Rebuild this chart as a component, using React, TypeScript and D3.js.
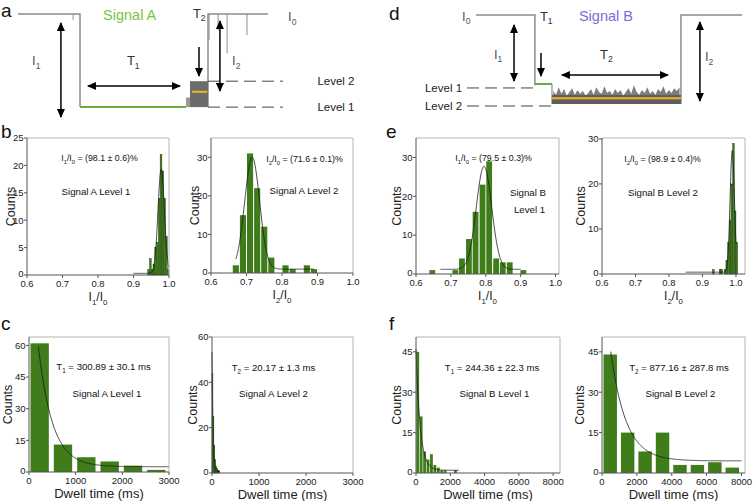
'use client';

/**
 * NanoporeFigure — two schematic current traces (Signal A / Signal B)
 * with blockade-ratio and dwell-time histograms for each level.
 */

import React from 'react';
import * as d3 from 'd3';

const FONT = '"Liberation Sans", Arial, Helvetica, sans-serif';
const BAR = '#3f7d1b';
const TRACE = '#8c8c8c';
const GREEN_TRACE = '#6cab3a';
const ORANGE = '#f2b41c';

// ---------- histogram data ----------
// b: Signal A, blockade ratios
const aL1RatioStarts = [0.94, 0.945, 0.95, 0.955, 0.96, 0.965, 0.97, 0.975, 0.98, 0.985, 0.99, 0.995];
const aL1RatioCounts = [1, 3, 1, 2, 5, 6, 14, 22, 19, 14, 7, 1];
const aL2RatioStarts = [0.66, 0.68, 0.7, 0.72, 0.74, 0.76, 0.78, 0.8, 0.82, 0.84, 0.86, 0.88];
const aL2RatioCounts = [2, 15, 31, 22, 12, 4, 0, 2, 1, 0, 2, 1];
// e: Signal B, blockade ratios
const bL1RatioStarts = [0.637, 0.703, 0.722, 0.742, 0.761, 0.781, 0.8, 0.82, 0.839, 0.859, 0.898];
const bL1RatioCounts = [1, 1, 4, 9, 16, 23, 29, 4, 3, 3, 1];
const bL2RatioStarts = [0.93, 0.95, 0.955, 0.965, 0.97, 0.975, 0.98, 0.985, 0.99, 0.995, 1.0];
const bL2RatioCounts = [1, 1, 1, 1, 3, 7, 12, 20, 29, 14, 7];
// c: Signal A, dwell times (ms)
const aL1DwellStarts = [0, 500, 1000, 1500, 2000, 2500];
const aL1DwellCounts = [61, 13, 7, 5, 3, 1];
const aL2DwellStarts = [0, 20, 40, 60, 80, 100, 120, 140];
const aL2DwellCounts = [44, 25, 12, 6, 3, 2, 1, 1];
// f: Signal B, dwell times (ms)
const bL1DwellStarts = [0, 200, 400, 600, 800, 1000, 1200, 1400, 1600, 2200];
const bL1DwellCounts = [45, 21, 8, 5, 7, 3, 2, 1, 1, 1];
const bL2DwellStarts = [0, 1000, 2000, 3000, 4000, 5000, 6000, 7000];
const bL2DwellCounts = [44, 15, 8, 15, 3, 3, 4, 2];

// fit parameters: gauss [mu, sigma, amp, base], exp [A, tau, y0]
const aL1Gauss = [0.978, 0.009, 19, 0.3];
const aL2Gauss = [0.716, 0.021, 29, 1];
const bL1Gauss = [0.795, 0.022, 26.5, 1.2];
const bL2Gauss = [0.989, 0.0065, 27, 0.4];
const aL1Exp = [111, 300.89, 2.5];
const aL2Exp = [53, 20.17, 0.5];
const bL1Exp = [45, 244.36, 1];
const bL2Exp = [71.7, 877.16, 4.5];

const ratioTicks = [0.6, 0.7, 0.8, 0.9, 1.0];

// ---------- schematic trace data (time 0-100, current 0-1 of I0) ----------
const aPreT = [0, 23.4, 23.4];
const aPreI = [1, 1, 0.03];
const aGreenT = [23.4, 63.4];
const aGreenI = [0.03, 0.03];
const aPostT = [71.7, 71.7, 94.3];
const aPostI = [0.03, 1, 1];
const aSpikeT = [20.8, 72.1, 75.5, 78.9, 86.4];
const aSpikeI = [0.94, 0.73, 0.83, 0.59, 0.78];

const dPreT = [3.3, 24.7, 24.7];
const dPreI = [1, 1, 0.26];
const dGreenT = [24.7, 30.9];
const dGreenI = [0.274, 0.274];
const dPostT = [77.8, 77.8, 100];
const dPostI = [0.063, 1, 1];
const dNoise = [0.2, 0.16, 0.24, 0.17, 0.22, 0.15, 0.19, 0.23, 0.16, 0.21, 0.17, 0.2, 0.15, 0.18, 0.22, 0.16,
  0.24, 0.19, 0.17, 0.25, 0.18, 0.2, 0.16, 0.22, 0.18, 0.21, 0.15, 0.19, 0.23, 0.17, 0.26, 0.19, 0.16, 0.21,
  0.18, 0.24, 0.17, 0.2, 0.16, 0.22, 0.19, 0.25, 0.17, 0.21, 0.18, 0.23, 0.2, 0.24];

type Seg = { t: string; sub?: boolean };
const s = (t: string): Seg => ({ t });
const sb = (t: string): Seg => ({ t, sub: true });

function Rich({ x, y, segs, size, anchor = 'start', fill = '#111' }: {
  x: number; y: number; segs: Seg[]; size: number; anchor?: string; fill?: string;
}) {
  let shift = 0;
  const down = size * 0.3;
  return (
    <text x={x} y={y} fontSize={size} textAnchor={anchor} fill={fill} fontFamily={FONT}>
      {segs.map((g, i) => {
        const target = g.sub ? down : 0;
        const dy = target - shift;
        shift = target;
        return (
          <tspan key={i} dy={dy} fontSize={g.sub ? size * 0.66 : size}>{g.t}</tspan>
        );
      })}
    </text>
  );
}

interface Note { segs: Seg[]; dx: number; dy: number; size: number }

interface HistProps {
  box: [number, number, number, number]; // left, right, top, bottom
  xDom: [number, number];
  yDom: [number, number];
  xTicks: number[];
  yTicks: number[];
  xFmt: (v: number) => string;
  starts: number[];
  counts: number[];
  binW: number;
  inset: [number, number];
  edge?: string;
  fitKind: 'gauss' | 'exp';
  fit: number[];
  fitRange: [number, number];
  notes: Note[];
  xLabel: Seg[];
  xLabelSize: number;
  yLabelX: number;
}

function Hist(p: HistProps) {
  const [l, r, t, b] = p.box;
  const x = d3.scaleLinear().domain(p.xDom).range([l, r]);
  const y = d3.scaleLinear().domain(p.yDom).range([b, t]);

  const f = (v: number) => {
    if (p.fitKind === 'gauss') {
      const [mu, sig, amp, base] = p.fit;
      return base + amp * Math.exp(-((v - mu) ** 2) / (2 * sig * sig));
    }
    const [A, tau, y0] = p.fit;
    return y0 + A * Math.exp(-v / tau);
  };
  const [f0, f1] = p.fitRange;
  const pts = d3.range(0, 301).map((i) => f0 + ((f1 - f0) * i) / 300);
  const fitPath = d3.line<number>().x((v) => x(v)).y((v) => y(Math.min(f(v), p.yDom[1]))).curve(d3.curveLinear)(pts) || '';

  return (
    <g fontFamily={FONT}>
      {p.starts.map((x0, i) => {
        const n = p.counts[i];
        if (!n) return null;
        const xa = x(x0) + p.inset[0];
        const w = Math.max(0.6, x(x0 + p.binW) - x(x0) - p.inset[0] - p.inset[1]);
        return (
          <rect key={i} x={xa} y={y(n)} width={w} height={y(0) - y(n)} fill={BAR}
            stroke={p.edge || 'none'} strokeWidth={p.edge ? 0.4 : 0} />
        );
      })}
      <path d={fitPath} fill="none" stroke="#1a1a1a" strokeWidth={0.8} />
      {/* frame */}
      <line x1={l} x2={r} y1={t} y2={t} stroke="#b4b4b4" strokeWidth={1} />
      <line x1={r} x2={r} y1={t} y2={b} stroke="#b4b4b4" strokeWidth={1} />
      <line x1={l} x2={l} y1={t} y2={b} stroke="#555" strokeWidth={1} />
      <line x1={l} x2={r} y1={b} y2={b} stroke="#555" strokeWidth={1} />
      {p.yTicks.map((v) => (
        <g key={'y' + v}>
          <line x1={l - 3} x2={l} y1={y(v)} y2={y(v)} stroke="#555" />
          <text x={l - 3.5} y={y(v) + (v === 0 ? 1.5 : 3.3)} fontSize={9.5} textAnchor="end" fill="#222">{v}</text>
        </g>
      ))}
      {p.xTicks.map((v) => (
        <g key={'x' + v}>
          <line x1={x(v)} x2={x(v)} y1={b} y2={b + 3} stroke="#555" />
          <text x={x(v)} y={b + 11.5} fontSize={9.5} textAnchor="middle" fill="#222">{p.xFmt(v)}</text>
        </g>
      ))}
      <Rich x={(l + r) / 2} y={b + 26} segs={p.xLabel} size={p.xLabelSize} anchor="middle" fill="#222" />
      <text transform={`translate(${p.yLabelX},${(t + b) / 2}) rotate(-90)`} fontSize={12.5}
        textAnchor="middle" fill="#222">Counts</text>
      {p.notes.map((n, i) => (
        <Rich key={i} x={l + n.dx} y={t + n.dy} segs={n.segs} size={n.size} anchor="middle" fill="#111" />
      ))}
    </g>
  );
}

const ratioFmt = (v: number) => v.toFixed(1);
const intFmt = (v: number) => String(v);

function Arrows({ x, y, list, id }: { x: d3.ScaleLinear<number, number>; y: d3.ScaleLinear<number, number>; list: number[][]; id: string }) {
  return (
    <g>
      {list.map((a, i) => (
        <line key={i} x1={x(a[0])} y1={y(a[1])} x2={x(a[2])} y2={y(a[3])} stroke="#000" strokeWidth={1.5}
          markerEnd={`url(#${id})`} markerStart={a[4] ? `url(#${id})` : undefined} />
      ))}
    </g>
  );
}

// arrows: [t0, i0, t1, i1, doubleHeaded]
const aArrows = [[16.2, 0.906, 16.2, -0.073, 1], [26.4, 0.25, 61.1, 0.25, 1], [68.3, 0.656, 68.3, 0.354, 0], [76.2, 0.927, 76.2, 0.198, 1]];
const dArrows = [[17.1, 0.895, 17.1, 0.305, 1], [26.9, 0.6, 26.9, 0.358, 0], [34.5, 0.368, 73.1, 0.368, 1], [84.7, 0.926, 84.7, 0.095, 1]];

function TraceA() {
  const x = d3.scaleLinear().domain([0, 100]).range([18, 283]);
  const y = d3.scaleLinear().domain([0, 1]).range([110, 14]);
  const ln = d3.line<[number, number]>().x((d) => x(d[0])).y((d) => y(d[1]));
  const zip = (a: number[], b: number[]) => a.map((v, i) => [v, b[i]] as [number, number]);
  const lab = (segs: Seg[], tt: number, c: number, size: number, fill: string) => (
    <Rich x={x(tt)} y={y(c) + size * 0.35} segs={segs} size={size} fill={fill} />
  );
  return (
    <g>
      <path d={ln(zip(aPreT, aPreI)) || ''} fill="none" stroke={TRACE} strokeWidth={1.5} />
      <path d={ln(zip(aPostT, aPostI)) || ''} fill="none" stroke={TRACE} strokeWidth={1.5} />
      {aSpikeT.map((tt, i) => (
        <line key={i} x1={x(tt)} x2={x(tt)} y1={y(1)} y2={y(aSpikeI[i])} stroke={TRACE} strokeWidth={1} />
      ))}
      <path d={ln(zip(aGreenT, aGreenI)) || ''} fill="none" stroke={GREEN_TRACE} strokeWidth={2} />
      <rect x={x(63.4)} y={y(0.13)} width={x(64.9) - x(63.4)} height={y(0.03) - y(0.13)} fill="#999" />
      <rect x={x(64.9)} y={y(0.3)} width={x(71.7) - x(64.9)} height={y(0.03) - y(0.3)} fill="#6b6b6b" />
      <line x1={x(65.6)} x2={x(71.4)} y1={y(0.19)} y2={y(0.19)} stroke={ORANGE} strokeWidth={2} />
      <line x1={x(71.7)} x2={x(100)} y1={y(0.3)} y2={y(0.3)} stroke="#444" strokeWidth={1} strokeDasharray="12 6" />
      <line x1={x(71.7)} x2={x(100)} y1={y(0.03)} y2={y(0.03)} stroke="#444" strokeWidth={1} strokeDasharray="12 6" />
      <Arrows x={x} y={y} list={aArrows} id="ahead" />
      {lab([s('I'), sb('1')], 5.3, 0.52, 13, '#555')}
      {lab([s('T'), sb('1')], 41.1, 0.52, 13, '#333')}
      {lab([s('T'), sb('2')], 66.0, 1.01, 13, '#333')}
      {lab([s('I'), sb('2')], 80.8, 0.52, 13, '#555')}
      {lab([s('I'), sb('0')], 101.9, 0.97, 13, '#555')}
      {lab([s('Level 2')], 113, 0.3, 11.5, '#222')}
      {lab([s('Level 1')], 113, 0.03, 11.5, '#222')}
      {lab([s('Signal A')], 32.1, 0.99, 14.5, '#7dc242')}
    </g>
  );
}

function TraceD() {
  const x = d3.scaleLinear().domain([0, 100]).range([467, 742]);
  const y = d3.scaleLinear().domain([0, 1]).range([110, 15]);
  const ln = d3.line<[number, number]>().x((d) => x(d[0])).y((d) => y(d[1]));
  const zip = (a: number[], b: number[]) => a.map((v, i) => [v, b[i]] as [number, number]);
  const nx = d3.scaleLinear().domain([0, dNoise.length - 1]).range([31.4, 77.3]);
  const noiseArea = d3.area<number>().x((_, i) => x(nx(i))).y0(y(0.063)).y1((v) => y(v)).curve(d3.curveLinear)(dNoise) || '';
  const lab = (segs: Seg[], tt: number, c: number, size: number, fill: string, anchor = 'start') => (
    <Rich x={x(tt)} y={y(c) + size * 0.35} segs={segs} size={size} fill={fill} anchor={anchor} />
  );
  return (
    <g>
      <path d={ln(zip(dPreT, dPreI)) || ''} fill="none" stroke={TRACE} strokeWidth={1.5} />
      <path d={ln(zip(dPostT, dPostI)) || ''} fill="none" stroke={TRACE} strokeWidth={1.5} />
      <line x1={x(30.9)} x2={x(30.9)} y1={y(0.274)} y2={y(0.063)} stroke={TRACE} strokeWidth={1.2} />
      <path d={ln(zip(dGreenT, dGreenI)) || ''} fill="none" stroke={GREEN_TRACE} strokeWidth={2} />
      <path d={noiseArea} fill="#7d7d7d" />
      <rect x={x(30.9)} y={y(0.158)} width={x(77.8) - x(30.9)} height={y(0.063) - y(0.158)} fill="#5e5e5e" />
      <line x1={x(30.9)} x2={x(77.8)} y1={y(0.123)} y2={y(0.123)} stroke={ORANGE} strokeWidth={2} />
      <line x1={x(0)} x2={x(24.7)} y1={y(0.232)} y2={y(0.232)} stroke="#444" strokeWidth={1} strokeDasharray="12 6" />
      <line x1={x(0)} x2={x(30.9)} y1={y(0.042)} y2={y(0.042)} stroke="#444" strokeWidth={1} strokeDasharray="12 6" />
      <Arrows x={x} y={y} list={dArrows} id="ahead" />
      {lab([s('I'), sb('0')], -1.8, 0.99, 13, '#555')}
      {lab([s('T'), sb('1')], 26.5, 0.99, 13, '#333')}
      {lab([s('I'), sb('1')], 9.8, 0.59, 13, '#555')}
      {lab([s('T'), sb('2')], 48.4, 0.59, 13, '#333')}
      {lab([s('I'), sb('2')], 86.5, 0.56, 13, '#555')}
      {lab([s('Signal B')], 40.7, 0.99, 14.5, '#7a6bd6')}
      {lab([s('Level 1')], -1.8, 0.232, 11.5, '#222', 'end')}
      {lab([s('Level 2')], -1.8, 0.042, 11.5, '#222', 'end')}
    </g>
  );
}

const ratioLabel = (k: string) => [s('I'), sb(k), s('/I'), sb('0')];

export default function App() {
  return (
    <svg width={754} height={501} style={{ position: 'absolute', left: 0, top: 0, background: '#fff' }}
      fontFamily={FONT}>
      <defs>
        <marker id="ahead" markerUnits="userSpaceOnUse" markerWidth={9} markerHeight={8} refX={8} refY={4}
          orient="auto-start-reverse">
          <path d="M0,0 L9,4 L0,8 z" fill="#000" />
        </marker>
      </defs>

      <TraceA />
      <TraceD />

      <Hist box={[27, 169, 138, 275]} xDom={[0.6, 1.0]} yDom={[0, 25]} xTicks={ratioTicks}
        yTicks={[0, 5, 10, 15, 20, 25]} xFmt={ratioFmt} starts={aL1RatioStarts} counts={aL1RatioCounts}
        binW={0.005} inset={[0, 0]} edge="#1c3a0a" fitKind="gauss" fit={aL1Gauss} fitRange={[0.9, 1.0]}
        notes={[{ segs: [...ratioLabel('1'), s(' = (98.1 ± 0.6)%')], dx: 72.5, dy: 23, size: 8.8 },
          { segs: [s('Signal A Level 1')], dx: 69, dy: 57, size: 9.7 }]}
        xLabel={ratioLabel('1')} xLabelSize={12} yLabelX={15} />
      <Hist box={[211, 353, 138, 273]} xDom={[0.6, 1.0]} yDom={[0, 35]} xTicks={ratioTicks}
        yTicks={[0, 10, 20, 30]} xFmt={ratioFmt} starts={aL2RatioStarts} counts={aL2RatioCounts}
        binW={0.02} inset={[0.5, 0.5]} fitKind="gauss" fit={aL2Gauss} fitRange={[0.67, 0.89]}
        notes={[{ segs: [...ratioLabel('2'), s(' = (71.6 ± 0.1)%')], dx: 93.5, dy: 24, size: 8.8 },
          { segs: [s('Signal A Level 2')], dx: 93, dy: 56, size: 9.7 }]}
        xLabel={ratioLabel('2')} xLabelSize={12} yLabelX={199} />
      <Hist box={[416, 559, 138, 274]} xDom={[0.6, 1.01]} yDom={[0, 35]} xTicks={ratioTicks}
        yTicks={[0, 10, 20, 30]} xFmt={ratioFmt} starts={bL1RatioStarts} counts={bL1RatioCounts}
        binW={0.0195} inset={[0.5, 0.5]} fitKind="gauss" fit={bL1Gauss} fitRange={[0.67, 0.9]}
        notes={[{ segs: [...ratioLabel('1'), s(' = (79.5 ± 0.3)%')], dx: 77.5, dy: 23, size: 8.8 },
          { segs: [s('Signal B')], dx: 112, dy: 58, size: 9.7 },
          { segs: [s('Level 1')], dx: 113.5, dy: 75, size: 9.7 }]}
        xLabel={ratioLabel('1')} xLabelSize={12} yLabelX={401} />
      <Hist box={[602, 745, 138, 274]} xDom={[0.6, 1.027]} yDom={[0, 30.2]} xTicks={ratioTicks}
        yTicks={[0, 10, 20, 30]} xFmt={ratioFmt} starts={bL2RatioStarts} counts={bL2RatioCounts}
        binW={0.005} inset={[0, 0]} edge="#1c3a0a" fitKind="gauss" fit={bL2Gauss} fitRange={[0.85, 1.0]}
        notes={[{ segs: [...ratioLabel('2'), s(' = (98.9 ± 0.4)%')], dx: 60.5, dy: 24, size: 8.8 },
          { segs: [s('Signal B Level 2')], dx: 61, dy: 58, size: 9.7 }]}
        xLabel={ratioLabel('2')} xLabelSize={12} yLabelX={585} />

      <Hist box={[29, 169, 337, 472]} xDom={[0, 3000]} yDom={[0, 64]} xTicks={[0, 1000, 2000, 3000]}
        yTicks={[0, 15, 30, 45, 60]} xFmt={intFmt} starts={aL1DwellStarts} counts={aL1DwellCounts}
        binW={500} inset={[1.5, 3.5]} fitKind="exp" fit={aL1Exp} fitRange={[200, 3000]}
        notes={[{ segs: [s('T'), sb('1'), s(' = 300.89 ± 30.1 ms')], dx: 74.5, dy: 33, size: 9.6 },
          { segs: [s('Signal A Level 1')], dx: 78, dy: 60, size: 9.7 }]}
        xLabel={[s('Dwell time (ms)')]} xLabelSize={13} yLabelX={12} />
      <Hist box={[212, 353, 337, 473]} xDom={[0, 3000]} yDom={[0, 60]} xTicks={[0, 1000, 2000, 3000]}
        yTicks={[0, 20, 40, 60]} xFmt={intFmt} starts={aL2DwellStarts} counts={aL2DwellCounts}
        binW={20} inset={[0, 0]} edge="#1c3a0a" fitKind="exp" fit={aL2Exp} fitRange={[0, 160]}
        notes={[{ segs: [s('T'), sb('2'), s(' = 20.17 ± 1.3 ms')], dx: 61.5, dy: 34, size: 9.6 },
          { segs: [s('Signal A Level 2')], dx: 61.5, dy: 60, size: 9.7 }]}
        xLabel={[s('Dwell time (ms)')]} xLabelSize={13} yLabelX={197} />
      <Hist box={[416, 560, 337, 473]} xDom={[0, 8400]} yDom={[0, 50.5]} xTicks={[0, 2000, 4000, 6000, 8000]}
        yTicks={[0, 15, 30, 45]} xFmt={intFmt} starts={bL1DwellStarts} counts={bL1DwellCounts}
        binW={200} inset={[0.3, 0.3]} fitKind="exp" fit={bL1Exp} fitRange={[0, 2500]}
        notes={[{ segs: [s('T'), sb('1'), s(' = 244.36 ± 22.3 ms')], dx: 76, dy: 34, size: 9.6 },
          { segs: [s('Signal B Level 1')], dx: 78.5, dy: 60, size: 9.7 }]}
        xLabel={[s('Dwell time (ms)')]} xLabelSize={13} yLabelX={401} />
      <Hist box={[602, 745, 337, 473]} xDom={[0, 8200]} yDom={[0, 50.5]} xTicks={[0, 2000, 4000, 6000, 8000]}
        yTicks={[0, 15, 30, 45]} xFmt={intFmt} starts={bL2DwellStarts} counts={bL2DwellCounts}
        binW={1000} inset={[1.5, 2.5]} fitKind="exp" fit={bL2Exp} fitRange={[500, 8000]}
        notes={[{ segs: [s('T'), sb('2'), s(' = 877.16 ± 287.8 ms')], dx: 77, dy: 34, size: 9.6 },
          { segs: [s('Signal B Level 2')], dx: 78.5, dy: 60, size: 9.7 }]}
        xLabel={[s('Dwell time (ms)')]} xLabelSize={13} yLabelX={584} />

      {/* panel letters */}
      <g fontSize={19} fill="#111">
        <text x={1} y={17}>a</text>
        <text x={389} y={20}>d</text>
        <text x={1} y={138}>b</text>
        <text x={386} y={138}>e</text>
        <text x={1} y={330}>c</text>
        <text x={389} y={330}>f</text>
      </g>
    </svg>
  );
}
